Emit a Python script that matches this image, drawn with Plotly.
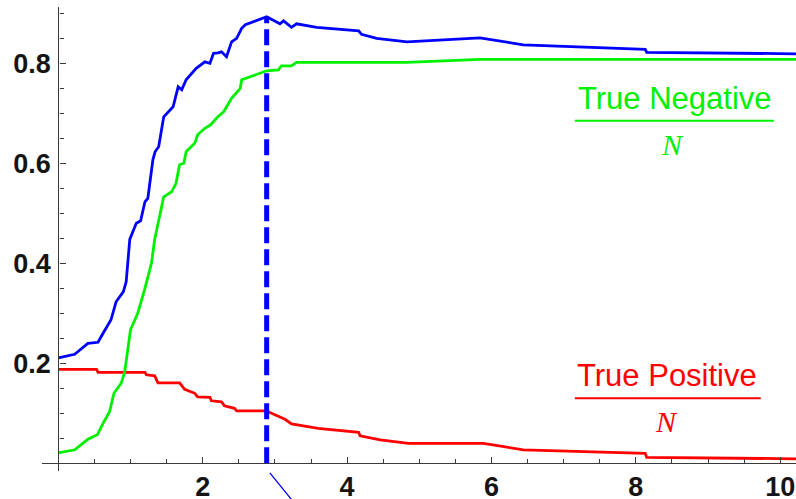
import plotly.graph_objects as go
import numpy as np

# ---- data ----
blue_x = [0, 0.227, 0.41, 0.55, 0.62, 0.73, 0.80, 0.90, 0.94, 0.965, 0.99, 1.08, 1.14, 1.20, 1.24,
          1.31, 1.34, 1.39, 1.46, 1.59, 1.66, 1.71, 1.77, 1.91, 2.03, 2.10, 2.15, 2.21, 2.26, 2.33,
          2.40, 2.47, 2.54, 2.59, 2.886, 3.07, 3.12, 3.23, 3.30, 3.58, 3.90, 4.16, 4.20, 4.41,
          4.83, 5.84, 6.44, 8.13, 8.15, 10.22]
blue_y = [0.211, 0.218, 0.24, 0.242, 0.26, 0.287, 0.323, 0.343, 0.363, 0.413, 0.448, 0.48, 0.485,
          0.523, 0.53, 0.607, 0.623, 0.633, 0.693, 0.713, 0.753, 0.747, 0.767, 0.79, 0.803, 0.80,
          0.82, 0.821, 0.823, 0.813, 0.843, 0.85, 0.87, 0.877, 0.893, 0.879, 0.885, 0.872, 0.879,
          0.872, 0.868, 0.865, 0.858, 0.85, 0.843, 0.851, 0.837, 0.828, 0.822, 0.819]

green_x = [0, 0.227, 0.41, 0.54, 0.62, 0.71, 0.77, 0.87, 0.92, 0.965, 1.0, 1.07, 1.10, 1.20, 1.29,
           1.335, 1.46, 1.57, 1.63, 1.68, 1.74, 1.77, 1.89, 1.93, 2.03, 2.11, 2.21, 2.29, 2.40,
           2.52, 2.54, 2.886, 3.05, 3.09, 3.23, 3.30, 4.83, 5.84, 10.22]
green_y = [0.021, 0.027, 0.048, 0.057, 0.08, 0.103, 0.14, 0.16, 0.183, 0.227, 0.267, 0.29, 0.30,
           0.35, 0.40, 0.448, 0.533, 0.543, 0.56, 0.597, 0.60, 0.623, 0.64, 0.657, 0.67, 0.677,
           0.693, 0.703, 0.73, 0.75, 0.767, 0.785, 0.787, 0.795, 0.795, 0.802, 0.802, 0.808, 0.808]

red_x = [0, 0.53, 0.55, 1.20, 1.22, 1.335, 1.38, 1.68, 1.75, 1.89, 1.93, 2.10, 2.12, 2.26, 2.30,
         2.44, 2.47, 2.88, 3.0, 3.14, 3.23, 3.60, 4.16, 4.18, 4.46, 4.85, 5.89, 6.44, 8.13, 8.15,
         10.22]
red_y = [0.188, 0.188, 0.182, 0.182, 0.177, 0.175, 0.161, 0.161, 0.148, 0.14, 0.133, 0.132, 0.125,
         0.123, 0.115, 0.11, 0.105, 0.105, 0.097, 0.088, 0.079, 0.07, 0.062, 0.055, 0.047, 0.04,
         0.04, 0.027, 0.02, 0.012, 0.009]

cut_x = 2.886
cut_y = 0.893

x_ticks = [2, 4, 6, 8, 10]
y_ticks = [0.2, 0.4, 0.6, 0.8]
x_minor = [0.5, 1, 1.5, 2.5, 3, 3.5, 4.5, 5, 5.5, 6.5, 7, 7.5, 8.5, 9, 9.5]
y_minor = [0.05, 0.1, 0.15, 0.25, 0.3, 0.35, 0.45, 0.5, 0.55, 0.65, 0.7, 0.75, 0.85, 0.9]

XR = [-0.226, 10.218]
YR = [-0.0154, 0.9126]

BLUE = "#0000FF"
GREEN = "#00F000"
RED = "#FF0000"

fig = go.Figure()
fig.add_trace(go.Scatter(x=red_x, y=red_y, mode="lines", line=dict(color=RED, width=2.8),
                         showlegend=False))
fig.add_trace(go.Scatter(x=green_x, y=green_y, mode="lines", line=dict(color=GREEN, width=2.8),
                         showlegend=False))
fig.add_trace(go.Scatter(x=blue_x, y=blue_y, mode="lines", line=dict(color=BLUE, width=2.8),
                         showlegend=False))
fig.add_trace(go.Scatter(x=[cut_x, cut_x], y=[0, cut_y], mode="lines",
                         line=dict(color=BLUE, width=5, dash="16px,6px"), showlegend=False))

tickfont = dict(family="Liberation Sans", size=27, color="#141414", weight="bold")
axis_col = "#3a3a3a"

fig.update_layout(
    width=796, height=499,
    margin=dict(l=42, r=0, t=7, b=28, autoexpand=False),
    paper_bgcolor="white", plot_bgcolor="white",
    xaxis=dict(range=XR, anchor="free", position=(0 - YR[0]) / (YR[1] - YR[0]),
               automargin=False,
               showgrid=False, zeroline=False, showline=True, linecolor=axis_col, linewidth=1.4,
               tickmode="array", tickvals=x_ticks, ticktext=[str(v) for v in x_ticks],
               ticks="inside", ticklen=6, tickwidth=1.3, tickcolor=axis_col,
               tickfont=tickfont, ticklabelstandoff=-1,
               minor=dict(tickvals=x_minor, ticks="inside", ticklen=4, tickwidth=1.1,
                          tickcolor=axis_col, showgrid=False)),
    yaxis=dict(range=YR, anchor="free", position=(0 - XR[0]) / (XR[1] - XR[0]),
               automargin=False,
               showgrid=False, zeroline=False, showline=True, linecolor=axis_col, linewidth=1.4,
               tickmode="array", tickvals=y_ticks, ticktext=[f"{v:.1f}" for v in y_ticks],
               ticks="inside", ticklen=6, tickwidth=1.3, tickcolor=axis_col,
               tickfont=tickfont, ticklabelstandoff=2,
               minor=dict(tickvals=y_minor, ticks="inside", ticklen=4, tickwidth=1.1,
                          tickcolor=axis_col, showgrid=False)),
)

label_font = dict(family="Liberation Sans", size=31)
N_font = dict(family="Liberation Serif", size=30)

# True Negative / N
fig.add_annotation(x=8.54, y=0.730, xref="x", yref="y", text="True Negative", showarrow=False,
                   font=dict(**label_font, color=GREEN))
fig.add_shape(type="line", xref="x", yref="y", x0=7.155, x1=9.91, y0=0.685, y1=0.685,
              line=dict(color=GREEN, width=2))
fig.add_annotation(x=8.51, y=0.637, xref="x", yref="y", text="<i>N</i>", showarrow=False,
                   font=dict(**N_font, color=GREEN))

# True Positive / N
fig.add_annotation(x=8.43, y=0.176, xref="x", yref="y", text="True Positive", showarrow=False,
                   font=dict(**label_font, color=RED))
fig.add_shape(type="line", xref="x", yref="y", x0=7.155, x1=9.73, y0=0.13, y1=0.13,
              line=dict(color=RED, width=2))
fig.add_annotation(x=8.43, y=0.083, xref="x", yref="y", text="<i>N</i>", showarrow=False,
                   font=dict(**N_font, color=RED))

# thin pointer line below the axis (partly cut off in the original)
def px(xd):
    return (xd - XR[0]) / (XR[1] - XR[0])

def py(yd):
    return (yd - YR[0]) / (YR[1] - YR[0])

fig.add_shape(type="line", xref="paper", yref="paper",
              x0=px(2.93), y0=py(-0.019), x1=px(3.30), y1=py(-0.085),
              line=dict(color=BLUE, width=1.3))

fig.write_html("out.html")
